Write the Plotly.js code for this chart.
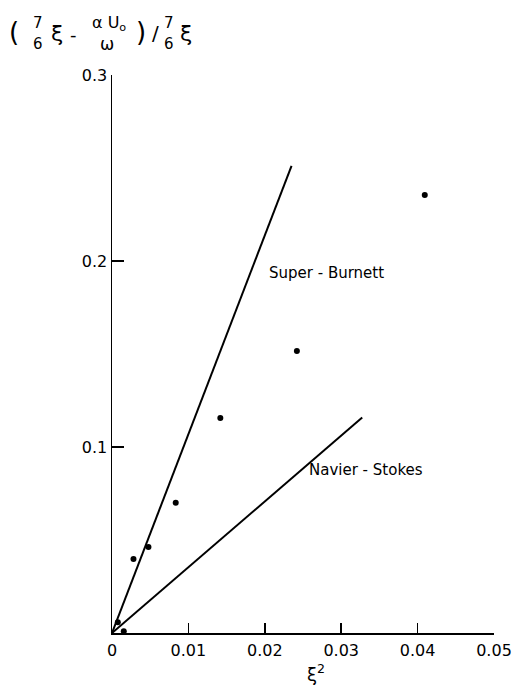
<!DOCTYPE html>
<html>
<head>
<meta charset="utf-8">
<script src="https://cdn.plot.ly/plotly-3.0.1.min.js"></script>
<style>html,body{margin:0;padding:0;background:#fff;}#chart{width:515px;height:688px;}</style>
</head>
<body>
<div id="chart"></div>
<script>
// Data
const dataX = [0.00076, 0.00154, 0.00281, 0.00477, 0.00834, 0.01418, 0.0242, 0.04094];
const dataY = [0.0058, 0.0010, 0.0398, 0.0462, 0.0700, 0.1156, 0.1516, 0.2355];
const superBurnettX = [0, 0.0235];
const superBurnettY = [0, 0.2512];
const navierStokesX = [0, 0.03275];
const navierStokesY = [0, 0.1158];
const xTickVals = [0, 0.01, 0.02, 0.03, 0.04, 0.05];
const xTickText = ["0", "0.01", "0.02", "0.03", "0.04", "0.05"];
const yTickVals = [0.1, 0.2, 0.3];
const yTickText = ["0.1", "0.2", "0.3"];

const FONT = "DejaVu Sans, Liberation Sans, sans-serif";
const L = 112, R = 21, T = 75, B = 55, W = 515, H = 688;
const pw = W - L - R, ph = H - T - B;
function px(x) { return (x - L) / pw; }
function py(y) { return (H - B - y) / ph; }

const traces = [
  {x: superBurnettX, y: superBurnettY, mode: 'lines', line: {color: '#000', width: 2}, hoverinfo: 'skip', cliponaxis: false},
  {x: navierStokesX, y: navierStokesY, mode: 'lines', line: {color: '#000', width: 2}, hoverinfo: 'skip', cliponaxis: false},
  {x: dataX, y: dataY, mode: 'markers', marker: {color: '#000', size: 6}, cliponaxis: false}
];

function ann(text, x, y, size, extra) {
  return Object.assign({text: text, xref: 'paper', yref: 'paper', x: px(x), y: py(y),
    xanchor: 'center', yanchor: 'middle', showarrow: false, borderpad: 0,
    font: {family: FONT, size: size, color: '#000'}}, extra || {});
}

const annotations = [
  ann('(', 14, 32, 26),
  ann('7', 38, 23, 15),
  ann('6', 38, 44, 15),
  ann('ξ', 57, 33, 22),
  ann('-', 73, 35, 18),
  ann('α U<sub>o</sub>', 109, 23, 16),
  ann('ω', 107, 44, 17),
  ann(')', 141, 32, 26),
  ann('/', 155, 33, 20),
  ann('7', 169, 23, 15),
  ann('6', 169, 44, 15),
  ann('ξ', 186, 33, 22),
  ann('Super - Burnett', 326, 273, 15),
  ann('Navier - Stokes', 366, 470, 15),
  ann('ξ<sup>2</sup>', 316, 660, 18, {yanchor: 'top'})
];

const layout = {
  width: W, height: H,
  margin: {l: L, r: R, t: T, b: B, pad: 0},
  paper_bgcolor: '#fff', plot_bgcolor: '#fff',
  showlegend: false,
  xaxis: {range: [0, 0.05], showgrid: false, zeroline: false, showline: true, linecolor: '#000', linewidth: 1.5,
    ticks: 'inside', ticklen: 10, tickwidth: 1.5, tickcolor: '#000', ticklabelstandoff: 2,
    tickvals: xTickVals, ticktext: xTickText, tickfont: {family: FONT, size: 16, color: '#000'}},
  yaxis: {range: [0, 0.3], showgrid: false, zeroline: false, showline: true, linecolor: '#000', linewidth: 1.5,
    ticks: 'inside', ticklen: 12, tickwidth: 1.5, tickcolor: '#000',
    tickvals: yTickVals, ticktext: yTickText, tickfont: {family: FONT, size: 16, color: '#000'}},
  annotations: annotations
};

Plotly.newPlot('chart', traces, layout, {displayModeBar: false, staticPlot: true});
</script>
</body>
</html>
